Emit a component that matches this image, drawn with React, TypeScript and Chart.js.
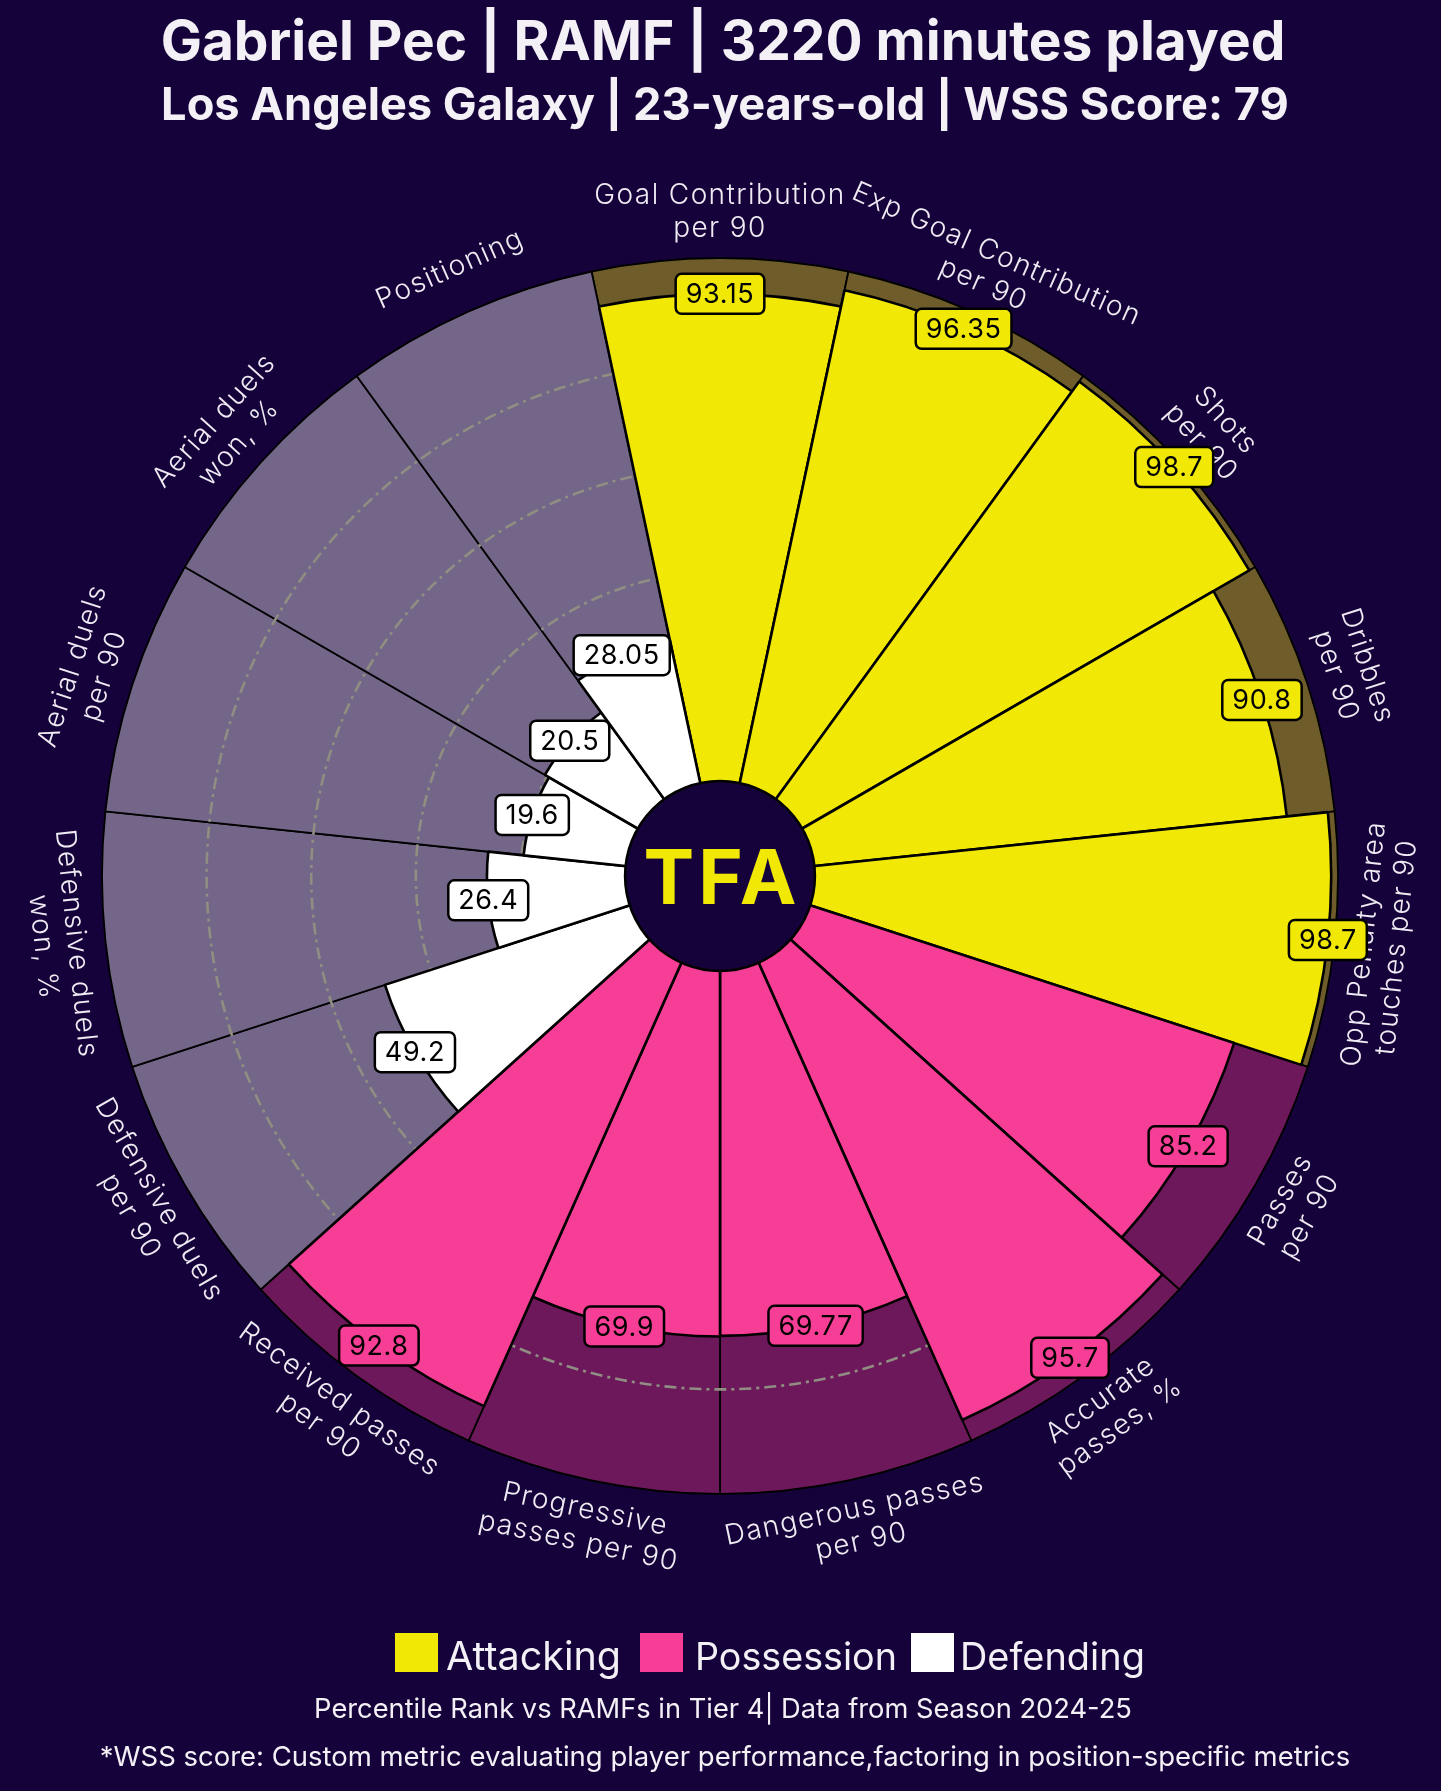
import { useEffect, useRef } from "react";
import { Chart, registerables } from "chart.js";

Chart.register(...registerables);

const BG = "#16023b";

const categories = [
  "Goal Contribution\nper 90",
  "Exp Goal Contribution\nper 90",
  "Shots\nper 90",
  "Dribbles\nper 90",
  "Opp Penalty area\ntouches per 90",
  "Passes\nper 90",
  "Accurate\npasses, %",
  "Dangerous passes\nper 90",
  "Progressive\npasses per 90",
  "Received passes\nper 90",
  "Defensive duels\nper 90",
  "Defensive duels\nwon, %",
  "Aerial duels\nper 90",
  "Aerial duels\nwon, %",
  "Positioning",
];

const values = [93.15, 96.35, 98.7, 90.8, 98.7, 85.2, 95.7, 69.77, 69.9, 92.8, 49.2, 26.4, 19.6, 20.5, 28.05];

const groups = [
  "Attacking", "Attacking", "Attacking", "Attacking", "Attacking",
  "Possession", "Possession", "Possession", "Possession", "Possession",
  "Defending", "Defending", "Defending", "Defending", "Defending",
];

const backgroundValues = [100, 100, 100, 100, 100, 100, 100, 100, 100, 100, 100, 100, 100, 100, 100];

const gridValues = [20, 40, 60, 80];

const legendNames = ["Attacking", "Possession", "Defending"];

const titleText = "Gabriel Pec | RAMF | 3220 minutes played";
const subtitleText = "Los Angeles Galaxy | 23-years-old | WSS Score: 79";
const footer1 = "Percentile Rank vs RAMFs in Tier 4| Data from Season 2024-25";
const footer2 = "*WSS score: Custom metric evaluating player performance,factoring in position-specific metrics";

const groupColors: Record<string, string> = {
  Attacking: "#f2e805",
  Possession: "#f73e96",
  Defending: "#ffffff",
};
const groupBgColors: Record<string, string> = {
  Attacking: "#6e5c2a",
  Possession: "#6e185c",
  Defending: "#736688",
};

const FONT = "Inter, 'Noto Sans', sans-serif";

function fitText(ctx: CanvasRenderingContext2D, text: string, weight: string, target: number) {
  (ctx as any).letterSpacing = "0px";
  ctx.font = `${weight} 100px ${FONT}`;
  const w = ctx.measureText(text).width;
  const size = (100 * target) / w;
  ctx.font = `${weight} ${size}px ${FONT}`;
  return size;
}

const pizzaPlugin = {
  id: "pizza",
  beforeDraw(chart: any) {
    const { ctx, width, height } = chart;
    ctx.save();
    ctx.fillStyle = BG;
    ctx.fillRect(0, 0, width, height);
    ctx.restore();
  },
  afterDatasetDraw(chart: any, args: any) {
    if (args.index !== 1) return;
    const scale = chart.scales.r;
    const ctx = chart.ctx;
    ctx.save();
    ctx.strokeStyle = "#908e82";
    ctx.lineWidth = 2.6;
    ctx.setLineDash([12, 5, 3, 5]);
    for (const g of gridValues) {
      const r = scale.getDistanceFromCenterForValue(g);
      ctx.beginPath();
      ctx.arc(scale.xCenter, scale.yCenter, r, 0, Math.PI * 2);
      ctx.stroke();
    }
    ctx.restore();
  },
  afterDatasetsDraw(chart: any) {
    const scale = chart.scales.r;
    const ctx: CanvasRenderingContext2D = chart.ctx;
    const meta = chart.getDatasetMeta(0);
    const cx = scale.xCenter;
    const cy = scale.yCenter;
    const outerR = scale.getDistanceFromCenterForValue(100);
    const innerR = scale.getDistanceFromCenterForValue(0);

    // center circle
    ctx.save();
    ctx.beginPath();
    ctx.arc(cx, cy, innerR, 0, Math.PI * 2);
    ctx.fillStyle = BG;
    ctx.fill();
    ctx.lineWidth = 2.5;
    ctx.strokeStyle = "#000";
    ctx.stroke();
    ctx.fillStyle = "#f2e805";
    ctx.font = `700 76px ${FONT}`;
    (ctx as any).letterSpacing = "4px";
    ctx.textAlign = "center";
    ctx.textBaseline = "alphabetic";
    ctx.fillText("TFA", cx + 2, cy + 28);
    ctx.restore();

    // category labels
    const labelR = outerR + 46;
    ctx.save();
    ctx.font = `300 28px ${FONT}`;
    (ctx as any).letterSpacing = "1.4px";
    ctx.fillStyle = "#eeebf3";
    ctx.textAlign = "center";
    ctx.textBaseline = "middle";
    categories.forEach((cat, i) => {
      const arc = meta.data[i];
      const mid = (arc.startAngle + arc.endAngle) / 2;
      const x = cx + labelR * Math.cos(mid);
      const y = cy + labelR * Math.sin(mid);
      let rot = mid + Math.PI / 2;
      while (rot > Math.PI) rot -= 2 * Math.PI;
      while (rot <= -Math.PI) rot += 2 * Math.PI;
      if (rot > Math.PI / 2 + 1e-6 || rot < -Math.PI / 2 - 1e-6) rot -= Math.PI;
      ctx.save();
      ctx.translate(x, y);
      ctx.rotate(rot);
      const lines = cat.split("\n");
      lines.forEach((ln, j) => {
        ctx.fillText(ln, 0, (j - (lines.length - 1) / 2) * 33);
      });
      ctx.restore();
    });
    ctx.restore();

    // value boxes
    ctx.save();
    ctx.font = `400 27px ${FONT}`;
    (ctx as any).letterSpacing = "0.6px";
    ctx.textAlign = "center";
    ctx.textBaseline = "middle";
    values.forEach((v, i) => {
      const arc = meta.data[i];
      const mid = (arc.startAngle + arc.endAngle) / 2;
      const r = scale.getDistanceFromCenterForValue(v);
      const x = cx + r * Math.cos(mid);
      const y = cy + r * Math.sin(mid);
      const txt = String(v);
      const tw = ctx.measureText(txt).width;
      const bw = tw + 20;
      const bh = 40;
      ctx.beginPath();
      (ctx as any).roundRect(x - bw / 2, y - bh / 2, bw, bh, 6);
      ctx.fillStyle = groupColors[groups[i]];
      ctx.fill();
      ctx.lineWidth = 2.5;
      ctx.strokeStyle = "#000";
      ctx.stroke();
      ctx.fillStyle = "#000";
      ctx.fillText(txt, x, y + 1);
    });
    ctx.restore();
  },
  afterDraw(chart: any) {
    const ctx: CanvasRenderingContext2D = chart.ctx;
    ctx.save();
    ctx.textAlign = "center";
    ctx.textBaseline = "alphabetic";
    ctx.fillStyle = "#f3f1f6";
    fitText(ctx, titleText, "700", 1125);
    ctx.fillText(titleText, 723, 60);
    fitText(ctx, subtitleText, "700", 1128);
    ctx.fillText(subtitleText, 725, 120);

    // legend
    const squares = [
      { x: 395, w: 43, tx: 446, tw: 175 },
      { x: 640, w: 43, tx: 695, tw: 202 },
      { x: 911, w: 43, tx: 960, tw: 185 },
    ];
    const legendColors = legendNames.map((n) => groupColors[n]);
    ctx.textAlign = "left";
    legendNames.forEach((name, i) => {
      const s = squares[i];
      ctx.fillStyle = legendColors[i];
      ctx.fillRect(s.x, 1633, s.w, 39);
      ctx.fillStyle = "#f3f1f6";
      fitText(ctx, name, "400", s.tw);
      ctx.fillText(name, s.tx, 1670);
    });

    ctx.textAlign = "center";
    fitText(ctx, footer1, "400", 818);
    ctx.fillText(footer1, 723, 1718);
    fitText(ctx, footer2, "400", 1251);
    ctx.fillText(footer2, 725, 1766);
    ctx.restore();
  },
};

export default function App() {
  const canvasRef = useRef<HTMLCanvasElement | null>(null);

  useEffect(() => {
    document.body.style.margin = "0";
    document.body.style.background = BG;
    const canvas = canvasRef.current;
    if (!canvas) return;
    const chart = new Chart(canvas, {
      type: "polarArea",
      data: {
        labels: categories.map((c) => c.replace("\n", " ")),
        datasets: [
          {
            label: "Percentile",
            data: values,
            backgroundColor: groups.map((g) => groupColors[g]),
            borderColor: "#000000",
            borderWidth: 2.6,
          },
          {
            label: "Background",
            data: backgroundValues,
            backgroundColor: groups.map((g) => groupBgColors[g]),
            borderColor: "#000000",
            borderWidth: 1.8,
          },
        ],
      },
      options: {
        animation: false,
        responsive: false,
        devicePixelRatio: 1,
        layout: { padding: { left: 102, right: 102, top: 258, bottom: 296 } },
        plugins: {
          legend: { display: false },
          tooltip: { enabled: false },
          title: { display: false },
        },
        scales: {
          r: {
            min: -18.15,
            max: 100,
            startAngle: -12,
            ticks: { display: false },
            grid: { display: false },
            angleLines: { display: false },
            pointLabels: { display: false },
          },
        },
      },
      plugins: [pizzaPlugin],
    } as any);
    return () => chart.destroy();
  }, []);

  return (
    <div style={{ width: 1441, height: 1791, background: BG }}>
      <canvas ref={canvasRef} width={1441} height={1791} style={{ width: 1441, height: 1791, display: "block" }} />
    </div>
  );
}
